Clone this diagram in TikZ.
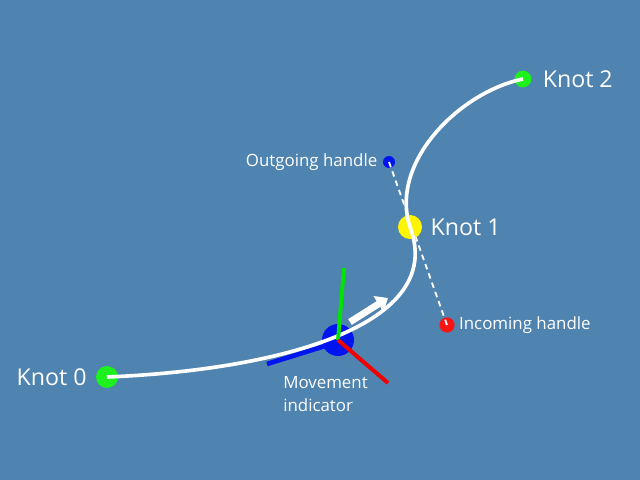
\documentclass[tikz,border=0pt]{standalone}
\usepackage{fontspec}
\setmainfont{Open Sans}
\usetikzlibrary{arrows.meta,positioning}
\definecolor{bgblue}{RGB}{79,131,176}
\definecolor{knotgreen}{RGB}{30,240,30}
\definecolor{knotyellow}{RGB}{255,245,0}
\definecolor{handleblue}{RGB}{0,20,240}
\definecolor{handlered}{RGB}{250,20,20}
\begin{document}
\begin{tikzpicture}[
    x=0.025cm, y=-0.025cm,
    dot/.style={circle, inner sep=0pt, fill=#1},
    bigtext/.style={text=white, font=\fontsize{16.5}{19}\selectfont, inner sep=0pt},
    smalltext/.style={text=white, font=\fontsize{12}{16.5}\selectfont, inner sep=0pt},
    curve/.style={white, line width=2.6pt},
    axis/.style={line width=2.8pt, line cap=butt}
  ]
    \fill[bgblue] (0,0) rectangle (640,480);
    \useasboundingbox (0,0) rectangle (640,480);

    % control points of the spline
    \coordinate (c0) at (280,370);
    \coordinate (c2) at (460,92);

    % handle line
    \node[dot=handleblue, minimum size=0.3cm] (outhandle) at (389,162) {};
    \node[dot=handlered, minimum size=0.38cm] (inhandle) at (447,325) {};
    \draw[white, line width=1.3pt, dash pattern=on 4pt off 3pt] (outhandle.center) -- (inhandle.center);

    % movement indicator, under the curve
    \draw[handleblue, line width=3.3pt] (267,364) -- (325,346);
    \node[dot=handleblue, minimum size=0.8cm] (indicator) at (338,340) {};

    % knots
    \node[dot=knotgreen, minimum size=0.55cm] (knot0) at (107,377) {};
    \node[dot=knotyellow, minimum size=0.6cm] (knot1) at (410,227) {};
    \node[dot=knotgreen, minimum size=0.42cm] (knot2) at (523,79) {};

    \draw[curve] (knot0.center) .. controls (c0) and (inhandle.center) .. (knot1.center)
                 .. controls (outhandle.center) and (c2) .. (knot2.center);

    \draw[axis, green!90!black] (indicator.center) -- (344,268);
    \draw[axis, red!95!black] (indicator.center) -- (388,383);
    \draw[white, line width=4.8pt, -{Triangle[length=8pt, width=13pt]}] (350,322) -- (388,298);

    % labels
    \node[bigtext, left=0.22cm of knot0] (lab0) {Knot 0};
    \node[bigtext, right=0.2cm of knot1] (lab1) {Knot 1};
    \node[bigtext, right=0.27cm of knot2] (lab2) {Knot 2};
    \node[smalltext, left=0.13cm of outhandle] (labout) {Outgoing handle};
    \node[smalltext, right=0.1cm of inhandle] (labin) {Incoming handle};
    \node[smalltext, align=left, anchor=north west] (labind) at (283,376) {Movement\\indicator};
  \end{tikzpicture}
\end{document}
